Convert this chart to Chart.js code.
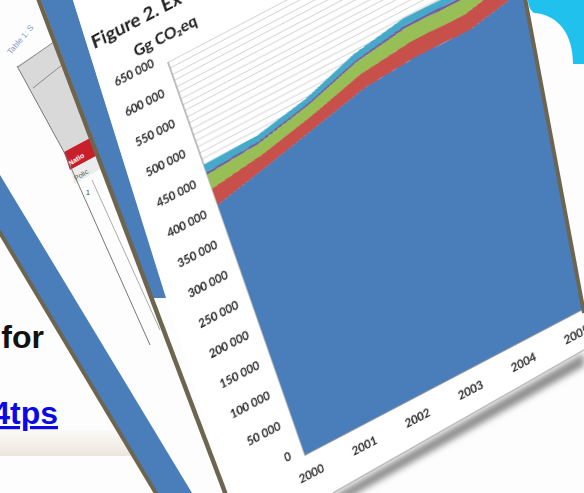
<!DOCTYPE html>
<html>
<head>
<meta charset="utf-8">
<script src="https://cdn.jsdelivr.net/npm/chart.js@4.4.0/dist/chart.umd.min.js"></script>
<style>
  html, body { margin: 0; padding: 0; background: #fff; overflow: hidden; }
  #stage { position: relative; width: 584px; height: 493px; overflow: hidden; }
  svg.layer { position: absolute; left: 0; top: 0; }
  #paper {
    position: absolute; left: 0; top: 0; width: 584px; height: 493px; background: #fff;
    clip-path: polygon(73px 0, 530px 0, 584px 312px, 584px 350px, 333px 493px, 228px 493px);
  }
  #wrap { position: absolute; left: 0; top: 0; width: 535px; height: 580px; transform-origin: 0 0; }
</style>
</head>
<body>
<div id="stage">
  <!-- slides lying under the figure -->
  <svg class="layer" width="584" height="493">
    <defs>
      <linearGradient id="band" x1="0" y1="0" x2="0" y2="1">
        <stop offset="0" stop-color="#fbfaf8"/>
        <stop offset="1" stop-color="#ece6dc"/>
      </linearGradient>
      <filter id="blur"><feGaussianBlur stdDeviation="3"/></filter>
    </defs>
    <rect width="584" height="493" fill="#fdfdfd"/>
    <polygon points="0,430 119,430 135,456 0,456" fill="url(#band)"/>
    <text x="44" y="348" text-anchor="end" font-family="Liberation Sans" font-weight="bold" font-size="32" fill="#111">for</text>
    <text x="58" y="424" text-anchor="end" font-family="Liberation Sans" font-weight="bold" font-size="32" fill="#0a0ae6" text-decoration="underline">4tps</text>

    <!-- table slide -->
    <text transform="translate(11,55) rotate(-50)" font-family="Liberation Sans" font-size="8" fill="#7d96c4">Table 1: S</text>
    <polygon points="17,66 57,40 92,140 64,152" fill="#d9d9d9"/>
    <line x1="18" y1="67" x2="58" y2="39" stroke="#8a8a8a" stroke-width="1"/>
    <line x1="33" y1="88" x2="62" y2="65" stroke="#8a8a8a" stroke-width="1"/>
    <line x1="17" y1="66" x2="64" y2="152" stroke="#777" stroke-width="1"/>
    <polygon points="64,152 92,137 98,155 70,170" fill="#c8202a"/>
    <text transform="translate(70,166) rotate(-32)" font-family="Liberation Sans" font-weight="bold" font-size="7" fill="#fff">Natio</text>
    <polygon points="70,170 98,155 102,168 75,184" fill="#ececec"/>
    <text transform="translate(76,181) rotate(-32)" font-family="Liberation Sans" font-size="7" fill="#555">Polic</text>
    <text x="86" y="195" font-family="Liberation Sans" font-size="7" fill="#333">1</text>
    <line x1="64" y1="152" x2="150" y2="345" stroke="#777" stroke-width="1"/>
    <line x1="92" y1="180" x2="160" y2="330" stroke="#aaa" stroke-width="1"/>

    <!-- blue frame of the table slide -->
    <polygon points="0,175 0,233 157,493 192,493" fill="#4a7ebb"/>
    <line x1="-1" y1="231" x2="157" y2="495" stroke="#6e6551" stroke-width="4"/>

    <!-- blue frame and edge of the figure slide -->
    <polygon points="41,0 73,0 166,298 153,298" fill="#4a7ebb"/>
    <line x1="38" y1="-2" x2="226" y2="495" stroke="#6e6551" stroke-width="4.5"/>

    <!-- shadow under the figure page -->
    <polygon points="333,496 584,353 584,366 345,500" fill="#8d8d8d" filter="url(#blur)"/>
  </svg>

  <div id="paper">
    <div id="wrap"><canvas id="c" width="535" height="580"></canvas></div>
  </div>

  <!-- right edge of the figure page and the next slide -->
  <svg class="layer" width="584" height="493">
    <polygon points="527,0 584,0 584,311" fill="#fdfdfd"/>
    <path d="M528 0 L584 0 L584 64 L573 64 C573 36 560 15 534 13 C530 10 528 5 528 0 Z" fill="#21c1ee"/>
    <line x1="525" y1="-2" x2="584" y2="313" stroke="#6e6551" stroke-width="4"/>
    <line x1="333" y1="493" x2="584" y2="350" stroke="#bdbdbd" stroke-width="1.5"/>
  </svg>
</div>

<script>
// Figure 2, Gg CO2eq, stacked by source
const years = ['2000', '2001', '2002', '2003', '2004', '2005', '2006', '2007'];
const energy      = [414000, 432000, 451000, 470000, 476000, 474000, 490000, 500000];
const industry    = [27000, 20000, 19000, 22000, 25000, 25000, 26000, 27000];
const agriculture = [23000, 18000, 17000, 20000, 23000, 23000, 23000, 24000];
const solvents    = [4000, 3000, 3000, 3000, 4000, 4000, 4000, 4000];
const waste       = [13000, 9000, 8000, 10000, 11000, 11000, 11000, 12000];

const figureTitle = 'Figure 2. Ex';
const unitLabel = 'Gg CO\u2082eq';
const yMax = 650000;

function fmtThousands(v) {
  return String(v).replace(/\B(?=(\d{3})+(?!\d))/g, ' ');
}

function area(label, data, color, fill) {
  return {
    label, data, fill,
    backgroundColor: color,
    borderColor: color,
    borderWidth: 0,
    pointRadius: 0,
    tension: 0
  };
}

/**
 * Title and unit drawn above the value axis
 */
const titlePlugin = {
  id: 'figTitle',
  afterDraw(chart) {
    const { ctx, chartArea } = chart;
    ctx.save();
    ctx.fillStyle = '#1e1e1e';
    ctx.font = 'bold 18px Lato';
    ctx.fillText(figureTitle, chartArea.left - 62, chartArea.top - 45);
    ctx.font = 'bold 15px Lato';
    ctx.fillText(unitLabel, chartArea.left - 27, chartArea.top - 19);
    ctx.restore();
  }
};

const chart = new Chart(document.getElementById('c'), {
  type: 'line',
  data: {
    labels: years,
    datasets: [
      area('Energy', energy, '#4a7ebb', 'origin'),
      area('Industrial processes', industry, '#c8504b', '-1'),
      area('Agriculture', agriculture, '#98bf55', '-1'),
      area('Solvents', solvents, '#6f5f9f', '-1'),
      area('Waste', waste, '#45a9c9', '-1')
    ]
  },
  options: {
    responsive: false,
    animation: false,
    devicePixelRatio: 2,
    layout: { padding: { top: 117, left: 50, right: 10, bottom: 20 } },
    plugins: { legend: { display: false }, tooltip: { enabled: false } },
    scales: {
      x: {
        offset: false,
        grid: { display: false, drawTicks: false },
        border: { color: '#9a9a9a' },
        ticks: { padding: 13, color: '#262626', font: { family: 'Lato', size: 11, weight: 'bold' } }
      },
      y: {
        stacked: true,
        min: 0,
        max: yMax,
        grid: { color: '#d6d6d6', lineWidth: 1, drawTicks: false },
        border: { color: '#8f8f8f' },
        ticks: {
          stepSize: 10000,
          autoSkip: false,
          padding: 13,
          labelOffset: -6,
          color: '#262626',
          font: { family: 'Lato', size: 11, weight: 'bold' },
          callback: v => (v % 50000 === 0 ? fmtThousands(v) : '')
        }
      }
    }
  },
  plugins: [titlePlugin]
});

// lay the page over the photo: 2000/0 corner, one year step, one 50 000 step
const sx = chart.scales.x, sy = chart.scales.y;
const x0 = sx.getPixelForValue(0), x1 = sx.getPixelForValue(1);
const y0 = sy.getPixelForValue(0), y1 = sy.getPixelForValue(50000);
const origin = [305, 455], yearStep = [53, -27.8], valueStep = [-10.54, -30.2];
const a = yearStep[0] / (x1 - x0), b = yearStep[1] / (x1 - x0);
const c = valueStep[0] / (y1 - y0), d = valueStep[1] / (y1 - y0);
const e = origin[0] - a * x0 - c * y0, f = origin[1] - b * x0 - d * y0;
document.getElementById('wrap').style.transform = `matrix(${a},${b},${c},${d},${e},${f})`;
</script>
</body>
</html>
